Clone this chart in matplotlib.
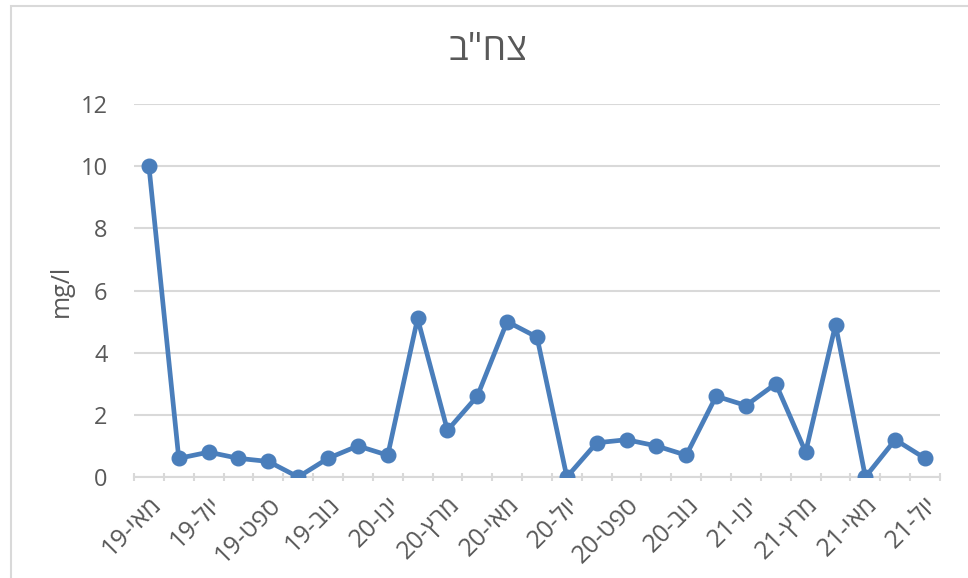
import matplotlib.pyplot as plt
from matplotlib.patches import Rectangle

plt.rcParams['font.family'] = ['Open Sans', 'DejaVu Sans']

# monthly values, May-19 .. Jul-21
months = ["מאי-19", "יונ-19", "יול-19", "אוג-19", "ספט-19", "אוק-19", "נוב-19",
          "דצמ-19", "ינו-20", "פבר-20", "מרץ-20", "אפר-20", "מאי-20", "יונ-20",
          "יול-20", "אוג-20", "ספט-20", "אוק-20", "נוב-20", "דצמ-20", "ינו-21",
          "פבר-21", "מרץ-21", "אפר-21", "מאי-21", "יונ-21", "יול-21"]
values = [10, 0.6, 0.8, 0.6, 0.5, 0, 0.6, 1.0, 0.7, 5.1, 1.5, 2.6, 5.0, 4.5,
          0, 1.1, 1.2, 1.0, 0.7, 2.6, 2.3, 3.0, 0.8, 4.9, 0, 1.2, 0.6]
title = 'צח"ב'
ylabel = "mg/l"
yticks = [0, 2, 4, 6, 8, 10, 12]


def visual(s):
    # matplotlib has no bidi: "מאי-19" shows as "19-" + hebrew reversed
    heb, num = s.split("-")
    return num + "-" + heb[::-1]


text_color = "#595959"
grid_color = "#d9d9d9"
line_color = "#4a7ebb"

fig = plt.figure(figsize=(9.68, 5.78), dpi=100)
ax = fig.add_axes([134 / 968, 1 - 477 / 578, 806 / 968, 373 / 578])

x = list(range(len(values)))
ax.plot(x, values, color=line_color, lw=3.4, marker="o", ms=10.5,
        solid_joinstyle="round", zorder=3)

ax.set_xlim(-0.5, len(values) - 0.5)
ax.set_ylim(0, 12)
ax.set_yticks(yticks)
ax.yaxis.grid(True, color=grid_color, lw=1.5)
ax.set_axisbelow(True)

for s in ["top", "right", "left"]:
    ax.spines[s].set_visible(False)
ax.spines["bottom"].set_color(grid_color)
ax.spines["bottom"].set_linewidth(1.5)

ax.tick_params(axis="y", length=0, pad=19, labelsize=17, labelcolor=text_color)

# labels every other month, tick marks between categories
ax.set_xticks(x[::2])
ax.set_xticklabels([visual(m) for m in months[::2]], rotation=45, ha="right",
                   va="top", rotation_mode="anchor")
ax.tick_params(axis="x", which="major", length=0, pad=11, labelsize=18,
               labelcolor=text_color)
ax.set_xticks([i - 0.5 for i in range(len(values) + 1)], minor=True)
ax.tick_params(axis="x", which="minor", length=6, width=1.5, color=grid_color,
               direction="inout")

ax.set_ylabel(ylabel, fontsize=18, color=text_color, labelpad=5)

fig.text(0.504, 1 - 50 / 578, title[::-1], ha="center", va="center",
         fontsize=27, color=text_color)

# chart frame
fig.patches.append(Rectangle((11 / 968, -0.1), 1.2, 1 - 6 / 578 + 0.1,
                             transform=fig.transFigure, fill=False,
                             edgecolor="#d9d9d9", lw=1.5))

fig.savefig("out.png", dpi=100)
